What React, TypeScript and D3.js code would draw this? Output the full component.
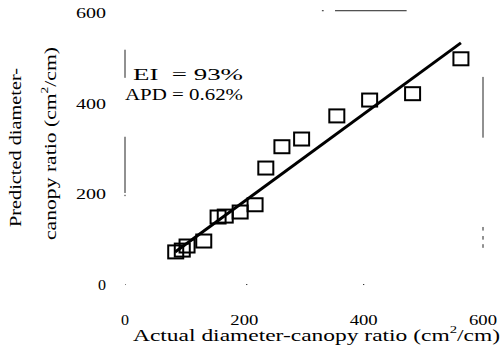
import React from 'react';
import * as d3 from 'd3';

const actual = [563, 482, 410, 355, 296, 263, 236, 218, 193, 168, 156, 132, 104, 96, 85];
const predicted = [499, 422, 408, 373, 322, 305, 258, 177, 161, 152, 150, 97, 86, 77, 73];

// fitted line
const fitSlope = 0.963;
const fitIntercept = -8;
const fitRange = [84, 563];

const xTicks = [0, 200, 400, 600];
const yTicks = [0, 200, 400, 600];

const statLines = [
  { label: 'EI  = 93%', len: 110 },
  { label: 'APD = 0.62%', len: 118 },
];

// faint remnants of the plot frame in the scan, [x1, y1, x2, y2] in data units
const frameBits = [
  [0, 519, 0, 457],
  [0, 327, 0, 203],
  [0, 199, 0, 196],
  [352, 605, 472, 605],
  [330, 605, 333, 605],
  [600, 459, 600, 325],
  [600, 128, 600, 120],
  [600, 108, 600, 100],
  [600, 90, 600, 82],
  [0, 1, 1, 1],
  [203, 1, 205, 1],
  [399, 1, 401, 1],
];

const W = 502;
const H = 349;
const font = '"Liberation Serif", "Times New Roman", serif';

export default function App() {
  const x = d3.scaleLinear().domain([0, 600]).range([125, 483]);
  const y = d3.scaleLinear().domain([0, 600]).range([285, 13]);

  const pts = actual.map((a, i) => ({ a, p: predicted[i] }));
  const fitLine = d3.line<number>()
    .x(d => x(d))
    .y(d => y(fitSlope * d + fitIntercept));

  return (
    <svg width={W} height={H} style={{ position: 'absolute', left: 0, top: 0, background: '#fff' }}
      fontFamily={font}>
      <rect width={W} height={H} fill="#fff" />

      {frameBits.map((b, i) => (
        <line key={i} x1={x(b[0])} y1={y(b[1])} x2={x(b[2])} y2={y(b[3])}
          stroke="#222" strokeWidth={1} />
      ))}

      {yTicks.map(t => (
        <text key={t} x={106} y={y(t) + 5} textAnchor="end" fontSize={14}
          textLength={t === 0 ? 8 : 30} lengthAdjust="spacingAndGlyphs">{t}</text>
      ))}
      {xTicks.map(t => (
        <text key={t} x={x(t)} y={325} textAnchor="middle" fontSize={14}
          textLength={t === 0 ? 8 : 28} lengthAdjust="spacingAndGlyphs">{t}</text>
      ))}

      <path d={fitLine(fitRange) || ''} stroke="#000" strokeWidth={3} fill="none" />

      {pts.map((d, i) => (
        <rect key={i} x={x(d.a) - 7.5} y={y(d.p) - 6.5} width={15} height={13}
          fill="none" stroke="#000" strokeWidth={2} />
      ))}

      {statLines.map((s, i) => (
        <text key={s.label} x={i === 0 ? 133 : 125} y={80 + i * 20} fontSize={16}
          textLength={s.len} lengthAdjust="spacingAndGlyphs" xmlSpace="preserve">{s.label}</text>
      ))}

      <text x={133} y={341} fontSize={16} textLength={367} lengthAdjust="spacingAndGlyphs">
        Actual diameter-canopy ratio (cm<tspan dy={-8} fontSize={10}>2</tspan><tspan dy={8}>/cm)</tspan>
      </text>

      <text transform="translate(21,227) rotate(-90)" fontSize={16}
        textLength={159} lengthAdjust="spacingAndGlyphs">Predicted diameter-</text>
      <text transform="translate(56,240) rotate(-90)" fontSize={16}
        textLength={193} lengthAdjust="spacingAndGlyphs">
        canopy ratio (cm<tspan dy={-8} fontSize={10}>2</tspan><tspan dy={8}>/cm)</tspan>
      </text>
    </svg>
  );
}
